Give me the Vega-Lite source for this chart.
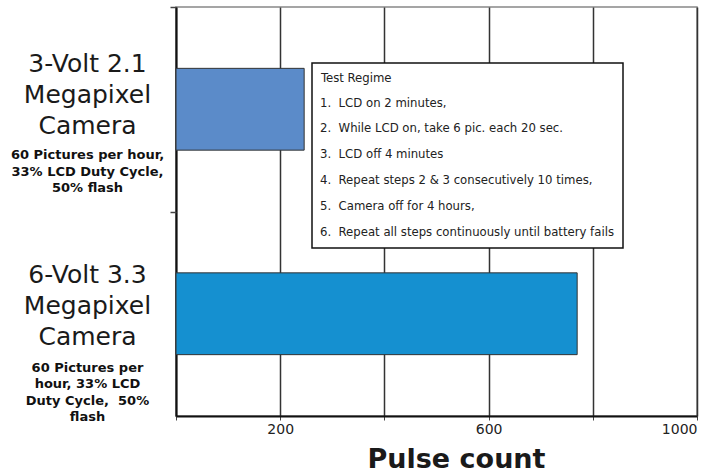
{
  "$schema": "https://vega.github.io/schema/vega-lite/v6.json",
  "width": 521,
  "height": 409,
  "autosize": "none",
  "padding": {"left": 176, "top": 7, "right": 25, "bottom": 56},
  "background": "white",
  "config": {
    "view": {"stroke": "#888", "strokeWidth": 1.5},
    "font": "DejaVu Sans",
    "legend": {"strokeWidth": 1.5}
  },
  "datasets": {
    "cams": [
      {"camera": "3V", "pulses": 246},
      {"camera": "6V", "pulses": 770}
    ],
    "steps": [
      {"step": "1.\u00a0 LCD on 2 minutes,"},
      {"step": "2.\u00a0 While LCD on, take 6 pic. each 20 sec."},
      {"step": "3.\u00a0 LCD off 4 minutes"},
      {"step": "4.\u00a0 Repeat steps 2 & 3 consecutively 10 times,"},
      {"step": "5.\u00a0 Camera off for 4 hours,"},
      {"step": "6.\u00a0 Repeat all steps continuously until battery fails"}
    ]
  },
  "layer": [
    {
      "data": {"name": "cams"},
      "mark": {"type": "bar", "stroke": "#333", "strokeWidth": 1},
      "encoding": {
        "y": {
          "field": "camera", "type": "nominal", "sort": ["3V", "6V"],
          "scale": {"paddingInner": 0.6, "paddingOuter": 0.3},
          "axis": {
            "title": null, "grid": false,
            "domainColor": "#111", "domainWidth": 2,
            "ticks": true, "tickColor": "transparent", "tickSize": 6,
            "labelExpr": "datum.value == '3V' ? ['3-Volt 2.1','Megapixel','Camera'] : ['6-Volt 3.3','Megapixel','Camera']",
            "labelFont": "DejaVu Sans", "labelFontSize": 25, "labelLineHeight": 31,
            "labelColor": "#1a1a1a", "labelAlign": "center", "labelPadding": 83,
            "labelOffset": {"condition": {"test": "datum.value == '3V'", "value": -45}, "value": -39}
          }
        },
        "x": {
          "field": "pulses", "type": "quantitative", "scale": {"domain": [0, 1000]},
          "axis": {
            "values": [0, 200, 400, 600, 800, 1000],
            "labelExpr": "datum.value % 400 == 200 ? format(datum.value, 'd') : ''",
            "grid": true, "gridColor": "#333", "gridWidth": 1.5, "gridOpacity": 1,
            "domainColor": "#111", "domainWidth": 2,
            "tickColor": "#444", "tickSize": 4,
            "labelFont": "DejaVu Sans", "labelFontSize": 14, "labelColor": "#222", "labelPadding": 2,
            "title": "Pulse count", "titleFont": "DejaVu Sans", "titleFontSize": 27, "titleFontWeight": "bold",
            "titleColor": "#1a1a1a", "titleX": 280, "titleY": 51, "titleBaseline": "alphabetic"
          }
        },
        "color": {
          "field": "camera", "type": "nominal",
          "scale": {"domain": ["3V", "6V"], "range": ["#5B8BC9", "#1590D0"]},
          "legend": null
        }
      }
    },
    {
      "data": {"name": "cams"},
      "mark": {"type": "bar", "opacity": 0},
      "encoding": {
        "y": {
          "field": "camera", "type": "nominal", "sort": ["3V", "6V"],
          "axis": {
            "title": null, "orient": "left", "domain": false, "grid": false,
            "ticks": true, "tickColor": "transparent", "tickSize": 6,
            "labelExpr": "datum.value == '3V' ? ['60 Pictures per hour,','33% LCD Duty Cycle,','50% flash'] : ['60 Pictures per','hour, 33% LCD','Duty Cycle,\u00a0 50%','flash']",
            "labelFont": "DejaVu Sans", "labelFontWeight": "bold", "labelFontSize": 13, "labelLineHeight": 16.5,
            "labelColor": "#111", "labelAlign": "center", "labelPadding": 83,
            "labelOffset": {"condition": {"test": "datum.value == '3V'", "value": 46}, "value": 54}
          }
        }
      }
    },
    {
      "data": {"name": "cams"},
      "mark": {"type": "bar", "opacity": 0},
      "encoding": {
        "y": {
          "field": "camera", "type": "nominal", "sort": ["3V", "6V"],
          "axis": {
            "title": null, "orient": "left", "domain": false, "grid": false, "labels": false,
            "tickOffset": -102.25, "ticks": true, "tickColor": "#444", "tickSize": 6, "tickWidth": 1.5
          }
        }
      }
    },
    {
      "data": {"name": "steps"},
      "mark": {"type": "point", "opacity": 0},
      "encoding": {
        "shape": {
          "field": "step", "type": "nominal",
          "legend": {
            "title": "Test Regime", "orient": "none", "legendX": 136, "legendY": 56, "direction": "vertical",
            "titleFont": "DejaVu Sans Condensed, DejaVu Sans", "titleFontSize": 13,
            "titleFontWeight": "normal", "titleColor": "#222", "titlePadding": 11,
            "labelFont": "DejaVu Sans Condensed, DejaVu Sans", "labelFontSize": 13,
            "labelColor": "#222", "labelLimit": 400, "labelOffset": -14,
            "symbolSize": 0.01, "symbolOpacity": 0, "symbolStrokeWidth": 0.01,
            "rowPadding": 11.9, "padding": 9, "strokeColor": "#111", "fillColor": "white"
          }
        }
      }
    }
  ],
  "resolve": {"axis": {"y": "independent"}}
}
